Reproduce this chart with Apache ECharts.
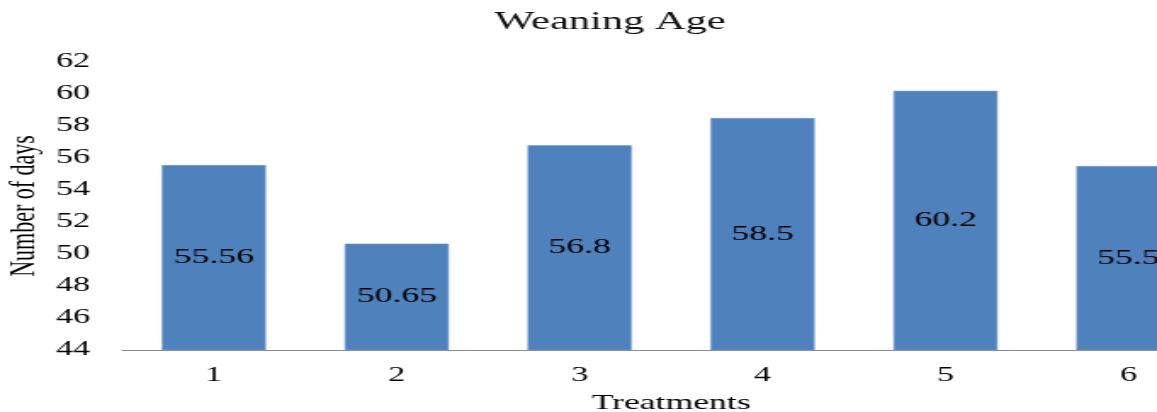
<!DOCTYPE html>
<html>
<head>
<meta charset="utf-8">
<title>Weaning Age</title>
<script src="https://cdn.jsdelivr.net/npm/echarts@6/dist/echarts.min.js"></script>
<style>
  html, body { margin: 0; padding: 0; background: #ffffff; overflow: hidden; }
  /* the chart is laid out narrow and widened horizontally, giving the wide lettering */
  #chart { width: 681px; height: 412px; transform: scaleX(1.699); transform-origin: 0 0; }
</style>
</head>
<body>
<div id="chart"></div>
<script>
// Weaning age per treatment (days)
const categories = ['1', '2', '3', '4', '5', '6'];
const weaningDays = [55.56, 50.65, 56.8, 58.5, 60.2, 55.5];
const yMin = 44;
const yMax = 62;
const yStep = 2;

const serif = 'Liberation Serif';
const chart = echarts.init(document.getElementById('chart'), null, { renderer: 'canvas' });

chart.setOption({
  backgroundColor: '#ffffff',
  animation: false,
  textStyle: { fontFamily: serif },
  title: {
    text: 'Weaning Age',
    left: 291,
    top: 10,
    padding: 0,
    textStyle: { fontFamily: serif, fontSize: 25, fontWeight: 'normal', color: '#111' }
  },
  grid: {
    left: 72, right: -37, top: 62, bottom: 62,
    containLabel: false,
    outerBoundsMode: 'none'
  },
  xAxis: {
    type: 'category',
    data: categories,
    name: 'Treatments',
    nameLocation: 'middle',
    nameGap: 43,
    nameMoveOverlap: false,
    nameTextStyle: { fontFamily: serif, fontSize: 21, color: '#000' },
    axisLine: { show: true, lineStyle: { color: '#8c8c8c', width: 1.2 } },
    axisTick: { show: false },
    axisLabel: { margin: 16, fontFamily: serif, fontSize: 20, color: '#000' },
    splitLine: { show: false }
  },
  yAxis: {
    type: 'value',
    min: yMin,
    max: yMax,
    interval: yStep,
    name: 'Number of days',
    nameLocation: 'middle',
    nameRotate: 90,
    nameGap: 47,
    nameMoveOverlap: false,
    nameTextStyle: { fontFamily: serif, fontSize: 22, color: '#000' },
    axisLine: { show: false },
    axisTick: { show: false },
    axisLabel: { margin: 19, fontFamily: serif, fontSize: 20, color: '#000' },
    splitLine: { show: false }
  },
  series: [{
    type: 'bar',
    data: weaningDays,
    barCategoryGap: '43%',
    itemStyle: { color: '#4f81bd', borderColor: '#7aa0d2', borderWidth: 0.6 },
    label: {
      show: true,
      position: 'inside',
      fontFamily: serif,
      fontSize: 21,
      color: '#000',
      formatter: p => String(p.value)
    }
  }]
});
</script>
</body>
</html>
